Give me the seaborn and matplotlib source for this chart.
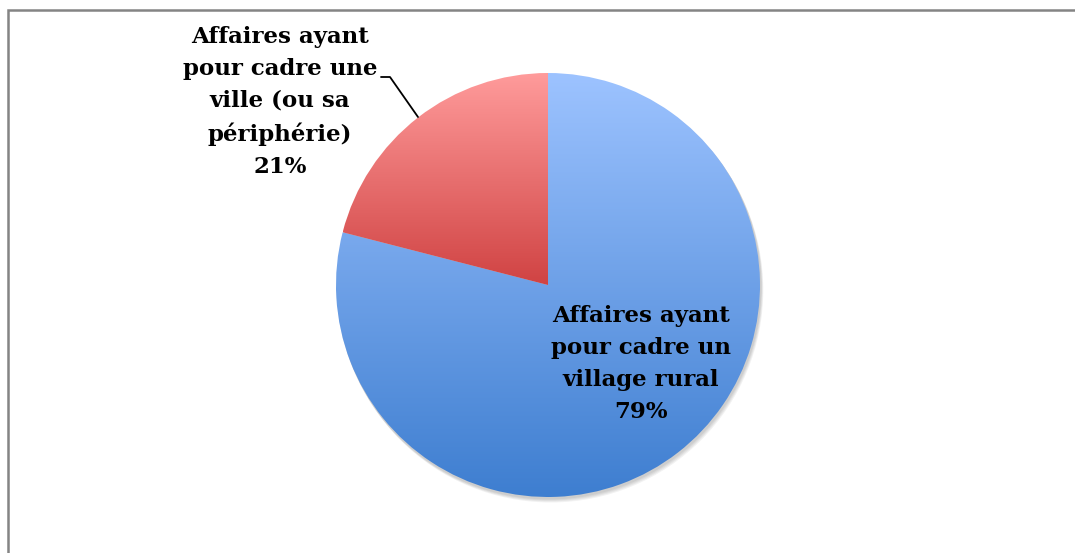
import numpy as np
import matplotlib
matplotlib.use("Agg")
import matplotlib.pyplot as plt
import seaborn as sns
from matplotlib.colors import LinearSegmentedColormap
from matplotlib.patches import Rectangle, Circle

# ---- data ----
categories = ["Affaires ayant\npour cadre un\nvillage rural",
              "Affaires ayant\npour cadre une\nville (ou sa\npériphérie)"]
values = [79, 21]
light_colors = ["#9DC3FF", "#FF9B9B"]
dark_colors = ["#3E7ED0", "#D04343"]

sns.set_theme(style="white")
plt.rcParams['font.family'] = ['DejaVu Serif']

W, H = 1075, 553
fig = plt.figure(figsize=(W / 100, H / 100), dpi=100)
ax = fig.add_axes([0, 0, 1, 1])
ax.set_xlim(0, W)
ax.set_ylim(0, H)
ax.set_aspect('equal')
ax.axis('off')

cx, cy, R = 548, H - 285, 212

# soft shadow
for i in range(4):
    ax.add_patch(Circle((cx + 1 + i * 0.6, cy - 2 - i * 1.0), R + 0.5, color="#000000",
                        alpha=0.05, lw=0, zorder=1))

wedges, _ = ax.pie(values, startangle=90, counterclock=False, center=(cx, cy),
                   radius=R, colors=["none", "none"],
                   wedgeprops=dict(linewidth=0, zorder=2))

for w, lc, dc in zip(wedges, light_colors, dark_colors):
    cmap = LinearSegmentedColormap.from_list("g", [dc, lc])
    bb = w.get_path().get_extents(w.get_patch_transform())
    grad = np.linspace(0, 1, 256).reshape(-1, 1)
    im = ax.imshow(grad, cmap=cmap, origin='lower', aspect='auto',
                   extent=(bb.x0, bb.x1, bb.y0, bb.y1), zorder=3)
    im.set_clip_path(w)

ax.set_xlim(0, W)
ax.set_ylim(0, H)

# labels
ax.text(641, H - 364, categories[0] + "\n" + f"{values[0]}%", ha='center', va='center',
        fontsize=16.5, fontweight='bold', color='black', linespacing=1.58, zorder=5)
ax.text(280, H - 102, categories[1] + "\n" + f"{values[1]}%", ha='center', va='center',
        fontsize=16.5, fontweight='bold', color='black', linespacing=1.58, zorder=5)

# leader line
ax.plot([381, 390, 418], [H - 77, H - 77, H - 117], color='black', lw=1.3, zorder=5)

# frame
fig.patches.append(Rectangle((8 / W, -0.1), 1.2, (H - 10) / H + 0.1,
                             transform=fig.transFigure, fill=False,
                             edgecolor="#848484", lw=1.8))

fig.savefig("out.png", dpi=100, facecolor="white")
